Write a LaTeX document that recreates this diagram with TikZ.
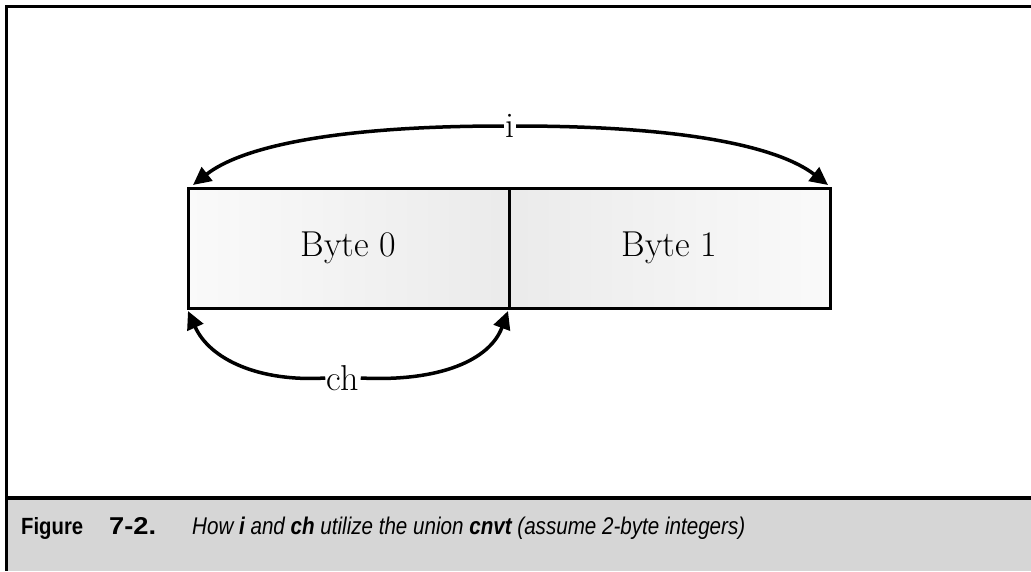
\documentclass[tikz,border=0pt]{standalone}
\usepackage{fontspec}
\newfontfamily\capfont{Liberation Sans}
\usetikzlibrary{arrows.meta}
\begin{document}
\begin{tikzpicture}[x=1pt,y=-1pt,
  frameline/.style={line width=3pt},
  bytebox/.style={draw, line width=3pt, minimum width=321pt, minimum height=120pt, inner sep=0pt, font=\fontsize{36}{42}\selectfont},
  lbl/.style={inner sep=1.5pt, font=\fontsize{36}{42}\selectfont},
  arr/.style={line width=3.5pt, -{Triangle[length=18pt,width=17pt]}},
  captext/.style={anchor=base west, inner sep=0pt},
]
\useasboundingbox (0,0) rectangle (1031,571);
% caption background
\fill[gray!32] (6,499) rectangle (1031,571);
\draw[frameline] (1031,6) -- (6,6) -- (6,571);
\draw[line width=4.5pt] (6,498) -- (1031,498);
% boxes
\node[bytebox, left color=gray!4, right color=gray!16] (b0) at (348.5,248) {Byte 0};
\node[bytebox, left color=gray!16, right color=gray!4] (b1) at (669.5,248) {Byte 1};
% labels
\node[lbl] (i) at (510,126) {i};
\node[lbl] (ch) at (343,378) {ch};
\coordinate (it0) at (193,185);
\coordinate (it1) at (828,185);
\coordinate (ct0) at (188,311);
\coordinate (ct1) at (508,311);
\draw[arr] (i.west) .. controls (330,126) and (240,148) .. (it0);
\draw[arr] (i.east) .. controls (690,126) and (780,148) .. (it1);
\draw[arr] (ch.west) .. controls (260,382) and (210,360) .. (ct0);
\draw[arr] (ch.east) .. controls (440,382) and (490,360) .. (ct1);
% caption
\node[captext, font=\capfont\bfseries] (fig) at (21,534) {\resizebox{62pt}{17pt}{Figure}\hspace{26pt}\resizebox{47pt}{17pt}{7-2.}};
\node[captext, font=\capfont\itshape] (cap) at (192,534) {\resizebox{553pt}{17.5pt}{How \textbf{i} and \textbf{ch} utilize the union \textbf{cnvt} (assume 2-byte integers)}};
\end{tikzpicture}
\end{document}
